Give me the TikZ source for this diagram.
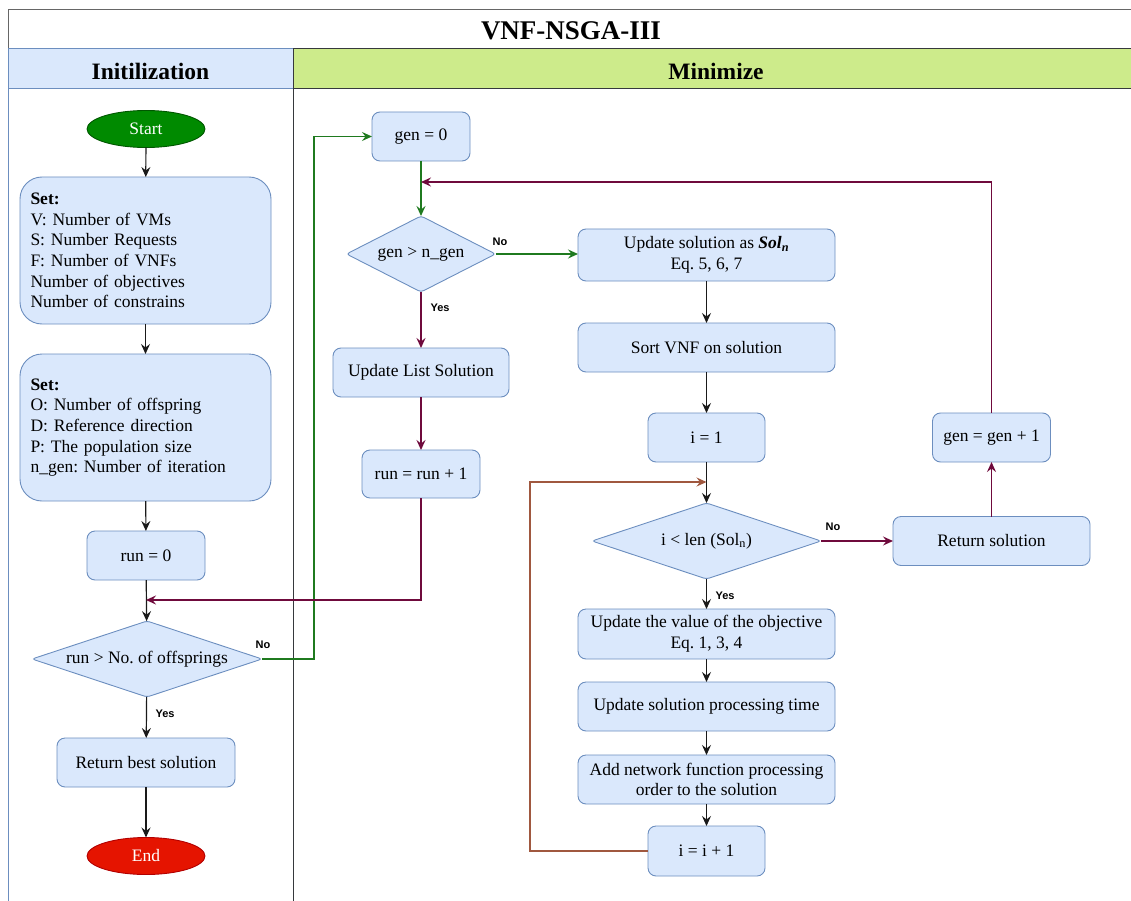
\documentclass[tikz,border=0pt]{standalone}
\usepackage{fontspec}
\setmainfont{Liberation Serif}
\newfontfamily\lblfont{Liberation Sans}
\usetikzlibrary{shapes.geometric,arrows.meta}
\definecolor{boxfill}{HTML}{DAE8FC}
\definecolor{boxdraw}{HTML}{6C8EBF}
\definecolor{lanegreen}{HTML}{CDEB8B}
\definecolor{lanedraw}{HTML}{36393D}
\definecolor{framegray}{HTML}{666666}
\definecolor{startgreen}{HTML}{008A00}
\definecolor{startdraw}{HTML}{005700}
\definecolor{endred}{HTML}{E51400}
\definecolor{enddraw}{HTML}{B20000}
\definecolor{linegreen}{HTML}{1F7A1F}
\definecolor{linepurple}{HTML}{6F0A3C}
\definecolor{linebrown}{HTML}{A0583F}
\definecolor{lineblack}{HTML}{1A1A1A}
\frenchspacing
\begin{document}
\begin{tikzpicture}[x=1pt,y=-1pt,
  txt/.style={font=\fontsize{17.5}{20.7}\selectfont},
  box/.style={txt,rectangle,rounded corners=8pt,draw=boxdraw,fill=boxfill,line width=0.9pt,
    inner sep=0pt,outer sep=0pt,align=center},
  setbox/.style={box,rounded corners=22pt,align=left,text width=230pt,inner xsep=10.5pt},
  decision/.style={txt,diamond,draw=boxdraw,fill=boxfill,line width=0.9pt,inner sep=0pt,outer sep=0pt,
    rounded corners=3pt},
  terminal/.style={txt,ellipse,inner sep=0pt,outer sep=0pt,text=white,line width=0.9pt,
    minimum width=118pt,minimum height=37pt},
  lbl/.style={font=\lblfont\bfseries\fontsize{11}{13}\selectfont,inner sep=0pt},
  tip/.style={-{Stealth[length=10pt,width=9pt,inset=3.5pt]}},
  blk/.style={tip,draw=lineblack,line width=1.2pt},
  grn/.style={tip,draw=linegreen,line width=1.4pt},
  prp/.style={tip,draw=linepurple,line width=1.4pt},
  brn/.style={tip,draw=linebrown,line width=1.1pt},
]
\useasboundingbox (0,0) rectangle (1131,901);
% ---- lanes ----
\draw[draw=framegray,fill=white,line width=1pt] (8,10) rectangle (1136,49);
\node[font=\bfseries\fontsize{27}{30}\selectfont] (title) at (571,31) {VNF-NSGA-III};
\draw[draw=boxdraw,fill=boxfill,line width=1pt] (8,49) rectangle (293,89);
\draw[draw=lanedraw,fill=lanegreen,line width=1pt] (293,49) rectangle (1136,89);
\node[font=\bfseries\fontsize{23.5}{26}\selectfont] (h1) at (150.5,71) {Initilization};
\node[font=\bfseries\fontsize{23.5}{26}\selectfont] (h2) at (716,71) {Minimize};
\draw[draw=boxdraw,line width=1pt] (8,89) -- (8,905);
\draw[draw=lanedraw,line width=1pt] (293,89) -- (293,905);
% ---- left lane ----
\node[terminal,fill=startgreen,draw=startdraw] (start) at (146,129) {Start};
\node[setbox,minimum height=147pt] (set1) at (145.5,250.5) {\textbf{Set:}\\V: Number of VMs\\S: Number Requests\\F: Number of VNFs\\Number of objectives\\Number of constrains};
\node[setbox,minimum height=147pt] (set2) at (145.5,427.5) {\textbf{Set:}\\O: Number of offspring\\D: Reference direction\\P: The population size\\n\_gen: Number of iteration};
\node[box,minimum width=118pt,minimum height=49pt] (run0) at (146,555.5) {run = 0};
\node[decision,minimum width=230pt,minimum height=76pt,shape aspect=3.03] (d1) at (147,659) {run > No. of offsprings};
\node[box,minimum width=178pt,minimum height=49pt] (retbest) at (146,762.5) {Return best solution};
\node[terminal,fill=endred,draw=enddraw] (end) at (146,856) {End};
\coordinate (runin) at (146,600);
\draw[blk] (start) -- (set1);
\draw[blk] (set1) -- (set2);
\draw[blk] (set2) -- (run0);
\draw[blk] (run0) -- (d1);
\draw[blk] (d1) -- (retbest);
\node[lbl] (yes1) at (165,714) {Yes};
\draw[blk] (retbest) -- (end);
% ---- right lane ----
\node[box,minimum width=98pt,minimum height=49pt] (gen0) at (421,136.5) {gen = 0};
\node[decision,minimum width=149pt,minimum height=76pt,shape aspect=1.96] (d2) at (421,254) {gen > n\_gen};
\node[box,minimum width=176pt,minimum height=49pt] (updlist) at (421,372.5) {Update List Solution};
\node[box,minimum width=118pt,minimum height=48pt] (runp1) at (421,474) {run = run + 1};
\node[box,minimum width=257pt,minimum height=52pt] (updsol) at (706.5,255) {Update solution as \textbf{\textit{Sol\textsubscript{n}}}\\Eq. 5, 6, 7};
\node[box,minimum width=257pt,minimum height=49pt] (sortvnf) at (706.5,347.5) {Sort VNF on solution};
\node[box,minimum width=117pt,minimum height=49pt] (i1) at (706.5,437.5) {i = 1};
\node[decision,minimum width=229pt,minimum height=76pt,shape aspect=3.01] (d3) at (706.5,541) {i < len (Sol\textsubscript{n})};
\node[box,minimum width=257pt,minimum height=50pt] (updval) at (706.5,634) {Update the value of the objective\\Eq. 1, 3, 4};
\node[box,minimum width=257pt,minimum height=49pt] (updtime) at (706.5,706.5) {Update solution processing time};
\node[box,minimum width=257pt,minimum height=49pt] (addnet) at (706.5,779.5) {Add network function processing\\order to the solution};
\node[box,minimum width=117pt,minimum height=50pt] (iinc) at (706.5,851) {i = i + 1};
\node[box,minimum width=197pt,minimum height=49pt] (retsol) at (991.5,541) {Return solution};
\node[box,minimum width=118pt,minimum height=49pt] (gplus) at (991.5,437.5) {gen = gen + 1};
\coordinate (genin) at (421,182);
\coordinate (brc) at (530,482);
\coordinate (iin) at (706.5,482);
% connectors
\draw[grn] (d1.east) -- ++(52,0) |- (gen0.west);
\node[lbl] (no1) at (263,645) {No};
\draw[grn] (gen0) -- (d2);
\draw[prp] (gplus.north) |- (genin);
\draw[grn] (d2.east) -- (d2.east -| updsol.west);
\node[lbl] (no2) at (500,242) {No};
\draw[prp] (d2) -- (updlist);
\node[lbl] (yes2) at (440,308) {Yes};
\draw[prp] (updlist) -- (runp1);
\draw[prp] (runp1.south) |- (runin);
\draw[blk] (updsol) -- (sortvnf);
\draw[blk] (sortvnf) -- (i1);
\draw[blk] (i1) -- (d3);
\draw[brn] (iinc.west) -| (brc) -- (iin);
\draw[blk] (d3) -- (updval);
\node[lbl] (yes3) at (725,596) {Yes};
\draw[blk] (updval) -- (updtime);
\draw[blk] (updtime) -- (addnet);
\draw[blk] (addnet) -- (iinc);
\draw[prp] (d3.east) -- (d3.east -| retsol.west);
\node[lbl] (no3) at (833,527) {No};
\draw[prp] (retsol) -- (gplus);
\end{tikzpicture}
\end{document}
